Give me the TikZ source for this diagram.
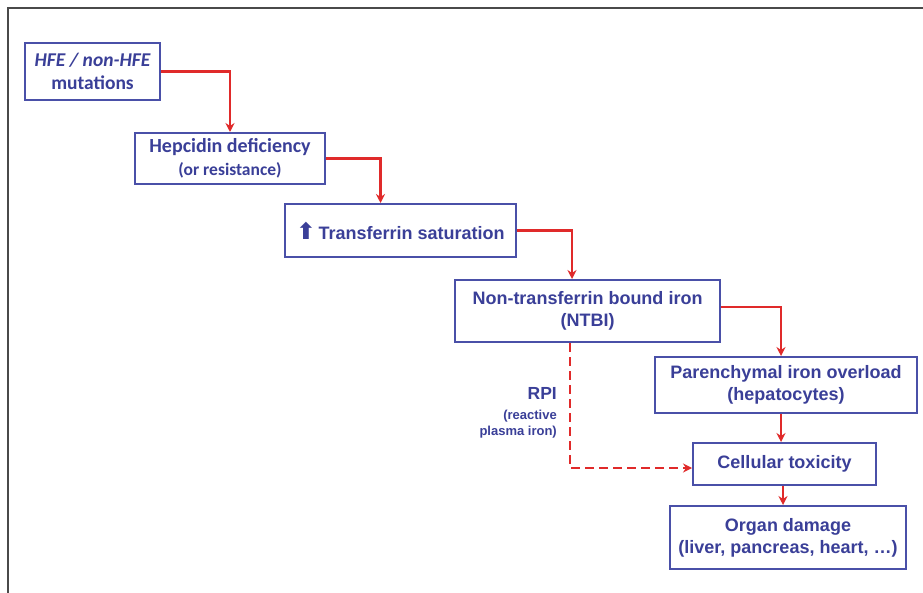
\documentclass[tikz,border=0pt]{standalone}
\usepackage{fontspec}
\setmainfont{Liberation Sans}
\newfontfamily\carlfont{Carlito}
\newfontfamily\symfont{DejaVu Sans}
\usetikzlibrary{arrows.meta,calc}
\definecolor{txtblue}{HTML}{3A3F98}
\definecolor{boxblue}{HTML}{4A50A8}
\definecolor{arrred}{HTML}{E02A2A}
\definecolor{framegray}{HTML}{4A4A4A}
\tikzset{
  box/.style={draw=boxblue, line width=2pt, fill=white, text=txtblue, align=center,
    font=\fontsize{18}{22}\selectfont\bfseries, inner sep=0pt},
  flow/.style={draw=arrred, line width=2.8pt, -{Stealth[length=9pt,width=9pt]}},
  dflow/.style={draw=arrred, line width=2pt, dash pattern=on 9pt off 5pt, -{Stealth[length=9pt,width=9pt]}},
  lbl/.style={text=txtblue, align=right, inner sep=0pt}
}
\begin{document}
\begin{tikzpicture}[x=1pt,y=-1pt]
\useasboundingbox (0,0) rectangle (923,593);
\fill[white] (0,0) rectangle (923,593);
\draw[framegray, line width=2.2pt] (8,593) -- (8,8) -- (923,8);

\node[box, minimum width=135pt, minimum height=57pt, font=\carlfont\fontsize{19.5}{23}\selectfont\bfseries] (b1) at (92.5,71.5)
  {\itshape HFE / non-HFE\\mutations};
\node[box, minimum width=190pt, minimum height=51pt, font=\carlfont\fontsize{20}{23}\selectfont\bfseries] (b2) at (230,158.5)
  {Hepcidin deficiency\\{\fontsize{17.5}{20}\selectfont (or resistance)}};
\node[box, minimum width=231pt, minimum height=53pt] (b3) at (400.5,230.5)
  {{\symfont\fontsize{23}{23}\selectfont ⬆}\,Transferrin saturation};
\node[box, minimum width=265pt, minimum height=62pt] (b4) at (587.5,311)
  {Non-transferrin bound iron\\(NTBI)};
\node[box, minimum width=262pt, minimum height=56pt] (b5) at (786,385)
  {Parenchymal iron overload\\(hepatocytes)};
\node[box, minimum width=183pt, minimum height=42pt] (b6) at (784.5,464)
  {Cellular toxicity};
\node[box, minimum width=236pt, minimum height=63pt] (b7) at (788,537.5)
  {Organ damage\\(liver, pancreas, heart, \dots)};

\node[lbl, anchor=east, font=\fontsize{17.5}{20}\selectfont\bfseries] (rpi) at (557,393) {RPI};
\node[lbl, anchor=north east, font=\fontsize{13}{15.5}\selectfont\bfseries] (rpi2) at (557,410) {(reactive\\plasma iron)};

\draw[flow] (b1.east) -| (b2.north);
\draw[flow] (b2.east) -| ([xshift=-20pt]b3.north);
\draw[flow] (b3.east) -| ([xshift=-15.5pt]b4.north);
\draw[flow] ([yshift=4pt]b4.east) -| ([xshift=-5pt]b5.north);
\draw[flow] ([xshift=-5pt]b5.south) -- ([xshift=-3.5pt]b6.north);
\draw[flow] ([xshift=-1.5pt]b6.south) -- ([xshift=-5pt]b7.north);
\coordinate (dk) at ([xshift=-17.5pt]b4.south);
\draw[dflow] (dk) |- ([yshift=-4pt]b6.west);
\end{tikzpicture}
\end{document}
